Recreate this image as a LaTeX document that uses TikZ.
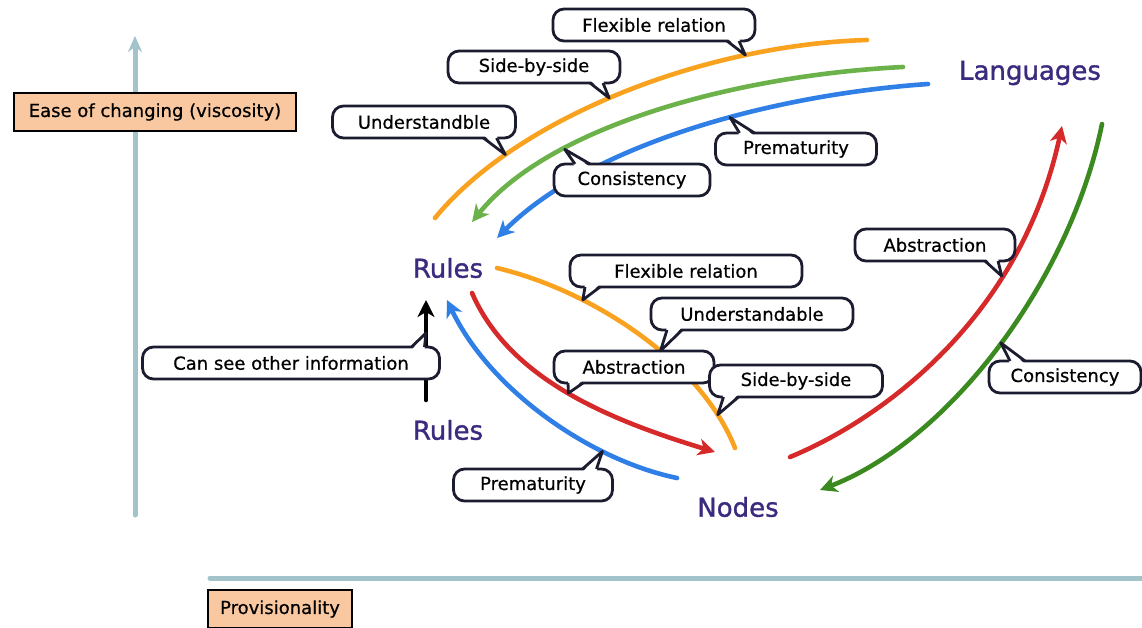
\documentclass[tikz,border=0pt]{standalone}
\usepackage{fontspec}
\setmainfont{DejaVu Sans}
\newfontfamily\inkfont[FakeBold=0.6]{DejaVu Sans}
\newfontfamily\wordfont[FakeBold=1.2]{DejaVu Sans}
\usetikzlibrary{arrows.meta}
\definecolor{axisblue}{HTML}{A3C3CB}
\definecolor{peach}{HTML}{F9C8A0}
\definecolor{wordpurple}{HTML}{3C2A7E}
\definecolor{inkblue}{HTML}{1C1C30}
\definecolor{corange}{HTML}{F8A21F}
\definecolor{cgreen}{HTML}{6CB24A}
\definecolor{cdgreen}{HTML}{3B8A1F}
\definecolor{cblue}{HTML}{2F7FE6}
\definecolor{cred}{HTML}{D62A2A}
\tikzstyle{bubble}=[draw=inkblue,line width=2.8pt,rounded corners=11pt,fill=white,minimum height=32pt,inner sep=2pt,outer sep=0pt,font=\inkfont\fontsize{18}{20}\selectfont]
\tikzstyle{tailline}=[draw=inkblue,line width=2.8pt,line join=round]
\tikzstyle{tag}=[draw=black,line width=2.6pt,fill=peach,minimum height=38pt,inner sep=2pt,font=\inkfont\fontsize{18}{20}\selectfont]
\tikzstyle{word}=[text=wordpurple,inner sep=0pt,font=\wordfont\fontsize{26}{28}\selectfont]
\tikzstyle{axis}=[draw=axisblue,line width=5pt,line cap=round]
\tikzstyle{flow}=[line width=4.6pt,line cap=round]
\tikzstyle{headed}=[-{Stealth[length=17pt,width=17pt,inset=5pt]}]

\begin{document}
\begin{tikzpicture}[x=1pt,y=-1pt]
    \useasboundingbox (0,0) rectangle (1142,627);

    \coordinate (yb) at (135,515);
    \coordinate (yt) at (135,36);
    \coordinate (xl) at (210,578);
    \coordinate (xr) at (1150,578);
    \draw[axis,-{Stealth[length=16pt,width=14pt]}] (yb) -- (yt);
    \draw[axis] (xl) -- (xr);
    \node[tag,minimum width=282pt] (ease) at (155,112) {Ease of changing (viscosity)};
    \node[tag,minimum width=144pt] (prov) at (280,609) {Provisionality};

    \node[word] (lang)   at (1030,73)  {Languages};
    \node[word] (rules1) at (448,268)  {Rules};
    \node[word] (rules2) at (448,430)  {Rules};
    \node[word] (nodes)  at (738,507)  {Nodes};

    \coordinate (oa) at (867,40);  \coordinate (ob) at (435,218);
    \coordinate (ga) at (903,67);  \coordinate (gb) at (472,222);
    \coordinate (ba) at (928,84);  \coordinate (bb) at (497,238);
    \coordinate (ma) at (497,268); \coordinate (mb) at (735,448);
    \coordinate (ra) at (472,293); \coordinate (rb) at (715,452);
    \coordinate (ua) at (677,478); \coordinate (ub) at (447,300);
    \coordinate (ka) at (426,400); \coordinate (kb) at (426,300);
    \coordinate (sa) at (790,457); \coordinate (sb) at (1062,126);
    \coordinate (da) at (1102,124); \coordinate (db) at (820,490);

    \draw[flow,draw=corange] (oa) .. controls (700,45) and (515,120) .. (ob)
        coordinate[pos=0.24] (kA) coordinate[pos=0.52] (kB) coordinate[pos=0.77] (kC);
    \draw[flow,headed,draw=cgreen] (ga) .. controls (740,75) and (550,125) .. (gb)
        coordinate[pos=0.71] (kD);
    \draw[flow,headed,draw=cblue] (ba) .. controls (770,95) and (590,145) .. (bb)
        coordinate[pos=0.41] (kE);
    \draw[flow,draw=corange] (ma) .. controls (590,290) and (700,360) .. (mb)
        coordinate[pos=0.3] (kH) coordinate[pos=0.59] (kI) coordinate[pos=0.87] (kK);
    \draw[flow,headed,draw=cred] (ra) .. controls (510,380) and (610,420) .. (rb)
        coordinate[pos=0.5] (kJ);
    \draw[flow,headed,draw=cblue] (ua) .. controls (590,460) and (490,390) .. (ub)
        coordinate[pos=0.28] (kL);
    \draw[flow,headed,draw=black] (ka) -- (kb) coordinate[pos=0.67] (kM);
    \draw[flow,headed,draw=cred] (sa) .. controls (880,420) and (1020,320) .. (sb)
        coordinate[pos=0.7] (kF);
    \draw[flow,headed,draw=cdgreen] (da) .. controls (1070,280) and (950,440) .. (db)
        coordinate[pos=0.49] (kG);

    \node[bubble,minimum width=202pt] (fr1)  at (654,25)   {Flexible relation};
    \node[bubble,minimum width=172pt] (sbs1) at (534,67)   {Side-by-side};
    \node[bubble,minimum width=183pt] (und1) at (424,122)  {Understandble};
    \node[bubble,minimum width=156pt] (con1) at (632,180)  {Consistency};
    \node[bubble,minimum width=161pt] (pre1) at (796,149)  {Prematurity};
    \node[bubble,minimum width=160pt] (abs1) at (935,245)  {Abstraction};
    \node[bubble,minimum width=152pt] (con2) at (1065,377) {Consistency};
    \node[bubble,minimum width=232pt] (fr2)  at (686,271)  {Flexible relation};
    \node[bubble,minimum width=202pt] (und2) at (752,314)  {Understandable};
    \node[bubble,minimum width=160pt] (abs2) at (634,367)  {Abstraction};
    \node[bubble,minimum width=173pt] (sbs2) at (796,381)  {Side-by-side};
    \node[bubble,minimum width=159pt] (pre2) at (533,485)  {Prematurity};
    \node[bubble,minimum width=297pt] (see)  at (291,363)  {Can see other information};

    \foreach \bub/\anc/\da/\db/\dy/\tp in {fr1/south east/-28/-16/3/kA,sbs1/south east/-30/-17/3/kB,
        und1/south east/-32/-19/3/kC,con1/north west/21/36/-3/kD,pre1/north west/24/39/-3/kE,
        abs1/south east/-30/-17/3/kF,con2/north west/21/36/-3/kG,fr2/south west/15/30/3/kH,
        und2/south west/16/31/3/kI,abs2/south west/14/29/3/kJ,sbs2/south west/14/29/3/kK,
        pre2/north east/-30/-16/-3/kL,see/north east/-28/-15/-3/kM}
    {
        \fill[white] ([xshift=\da pt,yshift=\dy pt]\bub.\anc) -- (\tp) -- ([xshift=\db pt,yshift=\dy pt]\bub.\anc) -- cycle;
        \draw[tailline] ([xshift=\da pt]\bub.\anc) -- (\tp) -- ([xshift=\db pt]\bub.\anc);
    }
\end{tikzpicture}
\end{document}
